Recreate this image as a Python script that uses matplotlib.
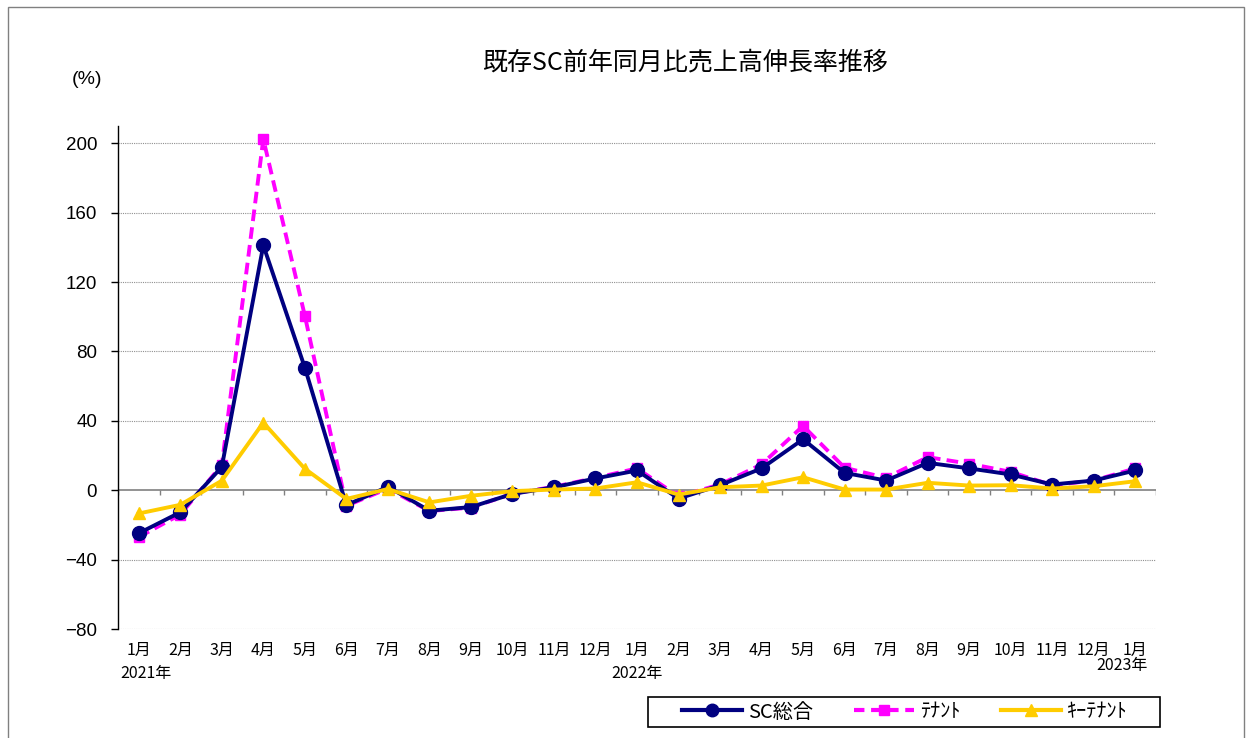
import matplotlib
matplotlib.use("Agg")
import matplotlib.pyplot as plt
import numpy as np
from matplotlib.patches import Rectangle
from matplotlib.lines import Line2D

plt.rcParams['font.family'] = ['Noto Sans CJK JP', 'DejaVu Sans']

months = ["1月", "2月", "3月", "4月", "5月", "6月", "7月", "8月", "9月", "10月", "11月", "12月",
          "1月", "2月", "3月", "4月", "5月", "6月", "7月", "8月", "9月", "10月", "11月", "12月", "1月"]
years = ["2021年", "2022年", "2023年"]
sc_total = [-24.8, -12.7, 13.4, 141.2, 70.7, -8.6, 2.0, -11.8, -9.7, -2.1, 1.7, 6.8,
            11.4, -4.8, 2.9, 12.6, 29.4, 10.0, 5.6, 15.8, 12.6, 9.1, 3.3, 5.6, 11.4]
tenant = [-27.0, -14.0, 14.5, 202.5, 100.6, -9.0, 1.0, -12.0, -10.0, -2.0, 2.0, 7.1,
          12.6, -3.5, 3.3, 14.9, 37.1, 13.0, 7.1, 19.1, 15.3, 10.6, 2.9, 5.6, 12.6]
key_tenant = [-13.4, -8.4, 5.5, 39.0, 12.4, -5.0, 0.7, -7.0, -3.2, -0.5, 0.4, 1.0,
              4.6, -2.5, 1.7, 2.7, 7.5, 0.4, 0.4, 4.3, 2.7, 2.9, 1.0, 2.3, 5.2]
series_names = ["SC総合", "ﾃﾅﾝﾄ", "ｷｰﾃﾅﾝﾄ"]
title = "既存SC前年同月比売上高伸長率推移"

W, H = 1247, 738
fig = plt.figure(figsize=(W / 100, H / 100), dpi=100)
fig.patches.append(Rectangle((8 / W, -0.05), (1244 - 8) / W, 1.05 - 7 / H, transform=fig.transFigure,
                             fill=False, edgecolor='#808080', linewidth=1.0))

ax = fig.add_axes([118 / W, 1 - 629 / H, (1156 - 118) / W, (629 - 126) / H])
x = np.arange(len(months))

ax.set_xlim(-0.5, len(months) - 0.5)
ax.set_ylim(-80, 210)
ax.set_yticks(np.arange(-80, 201, 40))
ax.set_yticklabels([("−" + str(-v)) if v < 0 else str(v) for v in range(-80, 201, 40)], fontsize=13.5,
                   family=['Liberation Sans', 'DejaVu Sans'])
ax.tick_params(axis='y', direction='out', length=5, width=1, pad=10)
for v in np.arange(-80, 201, 40):
    if v != 0:
        ax.axhline(v, color='#909090', linestyle=(0, (1, 1)), linewidth=0.8, zorder=0)
ax.axhline(0, color='#808080', linewidth=1.2, zorder=1)
ax.vlines(np.arange(-0.5, len(months)), -3.0, 0, color='#808080', linewidth=1.0, zorder=1)

for s in ['top', 'right', 'bottom']:
    ax.spines[s].set_visible(False)
ax.spines['left'].set_linewidth(1.0)

ax.set_xticks(x)
ax.set_xticklabels(months, fontsize=11.5)
ax.tick_params(axis='x', length=0, pad=9)

ax.plot(x, sc_total, color='#000080', linewidth=2.8, marker='o', markersize=10, zorder=4, label=series_names[0])
ax.plot(x, tenant, color='#FF00FF', linewidth=2.8, linestyle=(0, (3, 1.6)), marker='s', markersize=7.5,
        zorder=3, label=series_names[1])
ax.plot(x, key_tenant, color='#FFCC00', linewidth=2.8, marker='^', markersize=9, zorder=5, label=series_names[2])

trans = ax.get_xaxis_transform()
ax.text(-0.45, -0.088, years[0], transform=trans, fontsize=11.5, ha='left', va='center')
ax.text(12, -0.088, years[1], transform=trans, fontsize=11.5, ha='center', va='center')
ax.text(24.3, -0.073, years[2], transform=trans, fontsize=11.5, ha='right', va='center')

fig.text(685 / W, 1 - 62 / H, title, fontsize=18, ha='center', va='center')
fig.text(87 / W, 1 - 80 / H, "(%)", fontsize=14, ha='center', va='center',
         family=['Liberation Sans', 'DejaVu Sans'])

# legend box
fig.patches.append(Rectangle((648 / W, 1 - 727 / H), 512 / W, 30 / H, transform=fig.transFigure,
                             fill=True, facecolor='white', edgecolor='black', linewidth=1.2, zorder=2))
handles = [Line2D([], [], color='#000080', linewidth=3, marker='o', markersize=9),
           Line2D([], [], color='#FF00FF', linewidth=3, linestyle=(0, (2.5, 1.6)), marker='s', markersize=7),
           Line2D([], [], color='#FFCC00', linewidth=3, marker='^', markersize=9)]
leg = fig.legend(handles, series_names, loc='center', bbox_to_anchor=(905 / W, 1 - 712 / H), ncol=3,
                 frameon=False, fontsize=14.5, handlelength=3.0, columnspacing=2.0,
                 handletextpad=0.3, borderpad=0.0, borderaxespad=0)
leg.set_zorder(3)

fig.savefig("out.png", dpi=100)
